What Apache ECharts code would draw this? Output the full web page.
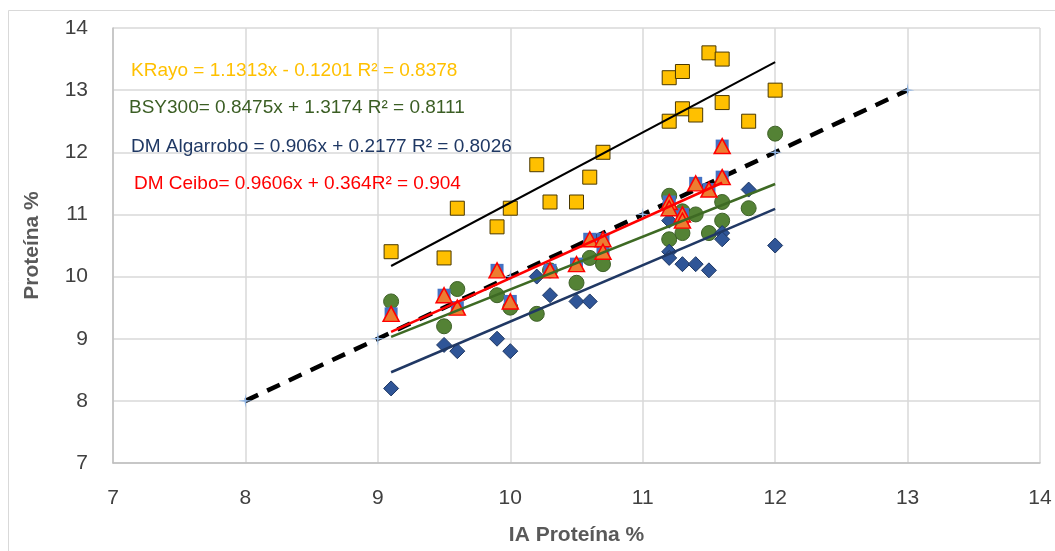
<!DOCTYPE html>
<html>
<head>
<meta charset="utf-8">
<script src="https://cdn.jsdelivr.net/npm/echarts@6/dist/echarts.min.js"></script>
<style>html,body{margin:0;padding:0;background:#fff}#c{width:1055px;height:551px}</style>
</head>
<body>
<div id="c"></div>
<script>
// Data
const kRayo = [[9.1,10.4],[9.5,10.3],[9.6,11.1],[9.9,10.8],[10,11.1],[10.2,11.8],[10.3,11.2],[10.5,11.2],[10.6,11.6],[10.7,12.0],[11.2,13.2],[11.2,12.5],[11.3,13.3],[11.3,12.7],[11.4,12.6],[11.5,13.6],[11.6,13.5],[11.6,12.8],[11.8,12.5],[12,13.0]];
const bsy300 = [[9.1,9.6],[9.5,9.2],[9.6,9.8],[9.9,9.7],[10,9.5],[10.2,9.4],[10.3,10.1],[10.5,9.9],[10.6,10.3],[10.7,10.2],[11.2,11.3],[11.2,10.6],[11.3,11.05],[11.3,10.7],[11.4,11.0],[11.5,10.7],[11.6,11.2],[11.6,10.9],[11.8,11.1],[12,12.3]];
const dmAlgarrobo = [[9.1,8.2],[9.5,8.9],[9.6,8.8],[9.9,9.0],[10,8.8],[10.2,10.0],[10.3,9.7],[10.5,9.6],[10.6,9.6],[10.7,10.5],[11.2,10.9],[11.2,10.4],[11.2,10.3],[11.3,10.2],[11.4,10.2],[11.5,10.1],[11.6,10.7],[11.6,10.6],[11.8,11.4],[12,10.5]];
const dmCeibo = [[9.1,9.4],[9.5,9.7],[9.6,9.5],[9.9,10.1],[10,9.6],[10.3,10.1],[10.5,10.2],[10.6,10.6],[10.7,10.6],[10.7,10.4],[11.2,11.2],[11.2,11.1],[11.3,11.0],[11.3,10.9],[11.4,11.5],[11.5,11.4],[11.6,12.1],[11.6,11.6]];
const oneToOne = [[8,8],[9,9],[10,10],[11,11],[12,12],[13,13]];
const kRayoFit = [[9.1,10.17],[12,13.45]];
const bsyFit = [[9.1,9.03],[12,11.49]];
const algFit = [[9.1,8.46],[12,11.09]];
const ceiboFit = [[9.1,9.11],[11.6,11.51]];
const xTicks = [7,8,9,10,11,12,13,14];
const yTicks = [7,8,9,10,11,12,13,14];
const labels = [
  {text:'KRayo = 1.1313x - 0.1201 R² = 0.8378', color:'#FFC000', x:131, y:72},
  {text:'BSY300= 0.8475x + 1.3174 R² = 0.8111', color:'#3B5E24', x:129, y:109},
  {text:'DM Algarrobo = 0.906x + 0.2177 R² = 0.8026', color:'#1F3864', x:131, y:148},
  {text:'DM Ceibo= 0.9606x + 0.364R² = 0.904', color:'#FF0000', x:134, y:185}
];

const FONT = 'Liberation Sans, Arial, sans-serif';
const chart = echarts.init(document.getElementById('c'));
const star = 'path://M0,-10L1.2,-1.2L10,0L1.2,1.2L0,10L-1.2,1.2L-10,0L-1.2,-1.2Z';
function lineSeries(data, color, width, type){
  return {type:'line', data:data, symbol:'none', silent:true, z:5,
    lineStyle:{color:color, width:width, type:type||'solid'}};
}
chart.setOption({
  animation:false,
  backgroundColor:'#fff',
  grid:{left:113, top:28, width:927, height:438, containLabel:false},
  xAxis:{type:'value', min:xTicks[0], max:xTicks[xTicks.length-1], interval:1,
    name:'IA Proteína %', nameLocation:'middle', nameGap:62,
    nameTextStyle:{color:'#595959', fontSize:21, fontWeight:'bold', fontFamily:FONT},
    axisLine:{show:true, lineStyle:{color:'#BFBFBF', width:1.5}},
    axisTick:{show:false},
    axisLabel:{color:'#404040', fontSize:21, margin:25, fontFamily:FONT},
    splitLine:{show:true, lineStyle:{color:'#D9D9D9', width:1.5}}},
  yAxis:{type:'value', min:yTicks[0], max:yTicks[yTicks.length-1], interval:1,
    name:'Proteína %', nameLocation:'middle', nameGap:70,
    nameTextStyle:{color:'#595959', fontSize:21, fontWeight:'bold', fontFamily:FONT},
    axisLine:{show:true, lineStyle:{color:'#BFBFBF', width:1.5}},
    axisTick:{show:false},
    axisLabel:{color:'#404040', fontSize:21, margin:25, fontFamily:FONT},
    splitLine:{show:true, lineStyle:{color:'#D9D9D9', width:1.5}}},
  graphic:[
    {type:'rect', shape:{x:8.5, y:10.5, width:1100, height:600}, style:{fill:'none', stroke:'#D9D9D9', lineWidth:1}, silent:true, z:-1}
  ].concat(labels.map(l => ({type:'text', left:l.x, top:l.y-11, z:10,
    style:{text:l.text, fill:l.color, font:'19px '+FONT}}))),
  series:[
    {type:'line', data:oneToOne, symbol:star, symbolSize:14, z:1,
      itemStyle:{color:'#8FB4E3', opacity:1}, lineStyle:{color:'#000', width:4.5, type:[14,10]}},
    {type:'scatter', data:kRayo, symbol:'rect', symbolSize:14, z:2,
      itemStyle:{color:'#FFC000', borderColor:'#4A3800', borderWidth:1, opacity:1}},
    {type:'scatter', data:bsy300, symbol:'circle', symbolSize:15, z:2,
      itemStyle:{color:'#548235', borderColor:'#3E6128', borderWidth:1, opacity:1}},
    {type:'scatter', data:dmAlgarrobo, symbol:'diamond', symbolSize:[15,15], z:2,
      itemStyle:{color:'#2F5597', borderColor:'#1F3864', borderWidth:1, opacity:1}},
    {type:'scatter', data:dmCeibo, symbol:'rect', symbolSize:13, z:3,
      itemStyle:{color:'#4472C4', opacity:1}},
    {type:'scatter', data:dmCeibo, symbol:'triangle', symbolSize:[16,15], z:3,
      itemStyle:{color:'#ED7D31', borderColor:'#FF0000', borderWidth:1.5, opacity:1}},
    lineSeries(kRayoFit, '#000000', 2),
    lineSeries(bsyFit, '#3E6A24', 2.5),
    lineSeries(algFit, '#203864', 2.5),
    lineSeries(ceiboFit, '#FF0000', 2.5)
  ]
});
</script>
</body>
</html>
